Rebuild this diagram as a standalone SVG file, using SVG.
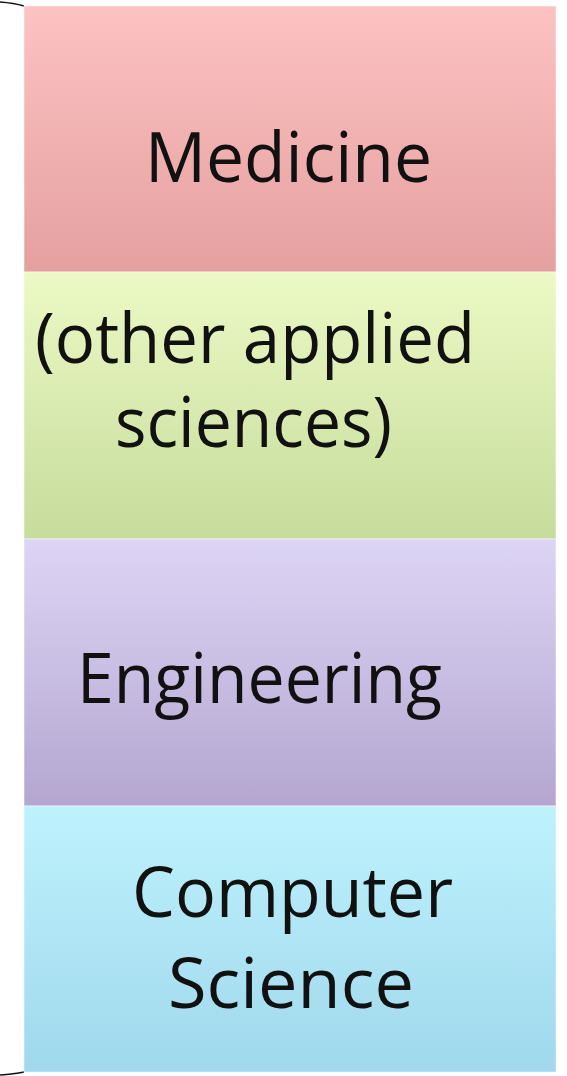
<svg xmlns="http://www.w3.org/2000/svg" width="567" height="1076" viewBox="0 0 567 1076">
<defs>
<linearGradient id="gMed" x1="0" y1="0" x2="0" y2="1"><stop offset="0" stop-color="#fdc2c2"/><stop offset="1" stop-color="#e5a0a0"/></linearGradient>
<linearGradient id="gApp" x1="0" y1="0" x2="0" y2="1"><stop offset="0" stop-color="#ecf9c4"/><stop offset="1" stop-color="#c6dc9c"/></linearGradient>
<linearGradient id="gEng" x1="0" y1="0" x2="0" y2="1"><stop offset="0" stop-color="#ddd5f5"/><stop offset="1" stop-color="#b4a6d0"/></linearGradient>
<linearGradient id="gCS" x1="0" y1="0" x2="0" y2="1"><stop offset="0" stop-color="#bef2fd"/><stop offset="1" stop-color="#a0d8ec"/></linearGradient>
<style>
.lbl{font-family:"Open Sans","Liberation Sans",sans-serif;font-size:69px;fill:#111;}
.box{stroke:#ffffff;stroke-opacity:0.35;stroke-width:1.5;}
.brace{fill:none;stroke:#111;stroke-width:1.6;}
</style>
</defs>
<rect width="567" height="1076" fill="#ffffff"/>
<g id="connectors">
<path class="brace" d="M0,2 Q14,3 24,6"/>
<path class="brace" d="M0,1075 Q14,1074 24,1072"/>
</g>
<g id="medicine">
<rect class="box" x="24" y="6" width="532" height="266" fill="url(#gMed)"/>
<text class="lbl" x="145" y="182" textLength="287" lengthAdjust="spacingAndGlyphs">Medicine</text>
</g>
<g id="applied">
<rect class="box" x="24" y="272" width="532" height="267" fill="url(#gApp)"/>
<text class="lbl" x="35" y="363" textLength="440" lengthAdjust="spacingAndGlyphs">(other applied</text>
<text class="lbl" x="115" y="447" textLength="277" lengthAdjust="spacingAndGlyphs">sciences)</text>
</g>
<g id="engineering">
<rect class="box" x="24" y="539" width="532" height="267" fill="url(#gEng)"/>
<text class="lbl" x="77" y="703" textLength="365" lengthAdjust="spacingAndGlyphs">Engineering</text>
</g>
<g id="cs">
<rect class="box" x="24" y="806" width="532" height="266" fill="url(#gCS)"/>
<text class="lbl" x="132" y="917" textLength="321" lengthAdjust="spacingAndGlyphs">Computer</text>
<text class="lbl" x="168" y="1008" textLength="246" lengthAdjust="spacingAndGlyphs">Science</text>
</g>
</svg>
